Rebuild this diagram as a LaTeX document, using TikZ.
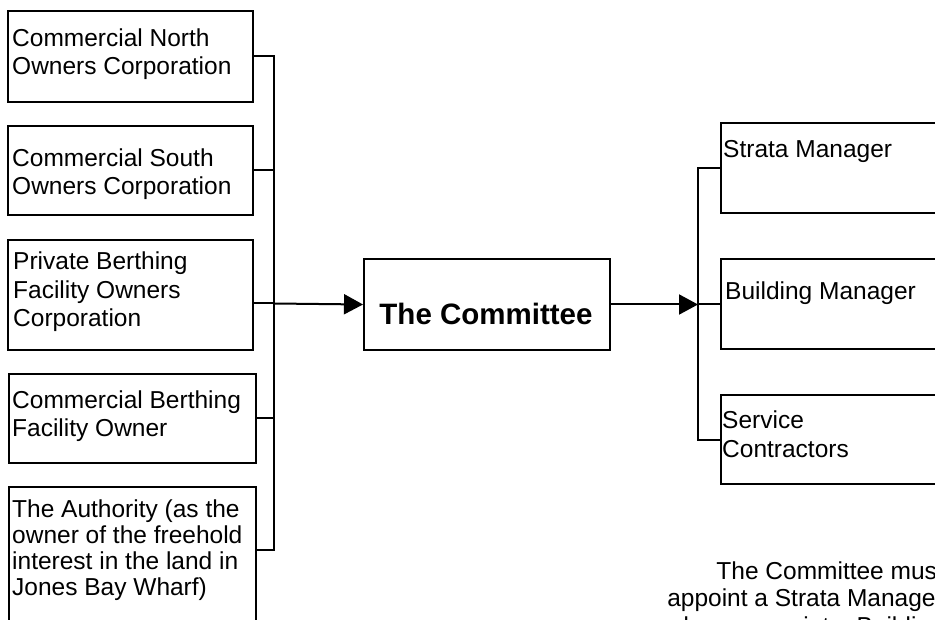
\documentclass[tikz,border=0pt]{standalone}
\usepackage{fontspec}
\setmainfont{Liberation Sans}
\usetikzlibrary{arrows.meta}
\begin{document}
\begin{tikzpicture}[x=1pt,y=-1pt,
  box/.style={draw,line width=2pt,inner sep=0pt,anchor=north west},
  boxtext/.style={inner sep=0pt,anchor=base west,align=left,
    font=\fontsize{24.5}{28}\selectfont},
  link/.style={line width=2pt},
  arr/.style={link,-{Triangle[length=19pt,width=20pt]}}
]
\useasboundingbox (0,0) rectangle (935,620);
\clip (0,0) rectangle (935,620);

% owner boxes
\node[box,minimum width=245pt,minimum height=91pt]  (cn) at (7,10) {};
\node[box,minimum width=245pt,minimum height=89pt]  (cs) at (7,125) {};
\node[box,minimum width=245pt,minimum height=110pt] (pb) at (7,239) {};
\node[box,minimum width=247pt,minimum height=89pt]  (cb) at (8,373) {};
\node[box,minimum width=247pt,minimum height=160pt] (au) at (8,486) {};

% committee
\node[box,minimum width=246pt,minimum height=91pt] (com) at (363,258) {};

% appointed parties
\node[box,minimum width=260pt,minimum height=90pt] (sm) at (720,122) {};
\node[box,minimum width=260pt,minimum height=90pt] (bm) at (720,258) {};
\node[box,minimum width=260pt,minimum height=89pt] (sc) at (720,394) {};

% box texts (each anchored on the baseline of its last line)
\node[boxtext] (t1) at (12,75)  {Commercial North\\Owners Corporation};
\node[boxtext] (t2) at (12,195) {Commercial South\\Owners Corporation};
\node[boxtext,font=\fontsize{24.5}{28.5}\selectfont] (t3) at (13,327)
  {Private Berthing\\Facility Owners\\Corporation};
\node[boxtext] (t4) at (12,436) {Commercial Berthing\\Facility Owner};
\node[boxtext,font=\fontsize{24.5}{26}\selectfont] (t5) at (12,595)
  {The Authority (as the\\owner of the freehold\\interest in the land in\\Jones Bay Wharf)};
\node[inner sep=0pt,anchor=base,font=\fontsize{29.5}{34}\selectfont\bfseries] (tc) at (486,325) {The Committee};
\node[boxtext] (ts) at (723,158) {Strata Manager};
\node[boxtext] (tb) at (725,300) {Building Manager};
\node[boxtext,font=\fontsize{24.5}{29}\selectfont] (tv) at (722,457) {Service\\Contractors};

% note, running on past the lower right edge
\node[boxtext,anchor=base east,align=right,font=\fontsize{24.5}{27.5}\selectfont] (note) at (944,634)
  {The Committee must\\appoint a Strata Manager\\and may appoint a Building};

% connectors into the committee
\coordinate (lx) at (274,0);
\coordinate (lbot) at (274,550);
\coordinate (lmid) at (274,303.5);
\draw[link] (cn.east) -- (cn.east -| lx) -- (lbot) -- (au.east |- lbot);
\draw[link] (cs.east) -- (cs.east -| lx);
\draw[link] (pb.east |- lmid) -- (lmid);
\draw[link] (cb.east) -- (cb.east -| lx);
\draw[arr] (lmid) -- (com.west);

% connectors out of the committee
\coordinate (rx) at (698,0);
\draw[arr] (com.east) -- (com.east -| rx);
\draw[link] (sm.west) -- (sm.west -| rx) -- (sc.west -| rx) -- (sc.west);
\draw[link] (bm.west) -- (bm.west -| rx);
\end{tikzpicture}
\end{document}
